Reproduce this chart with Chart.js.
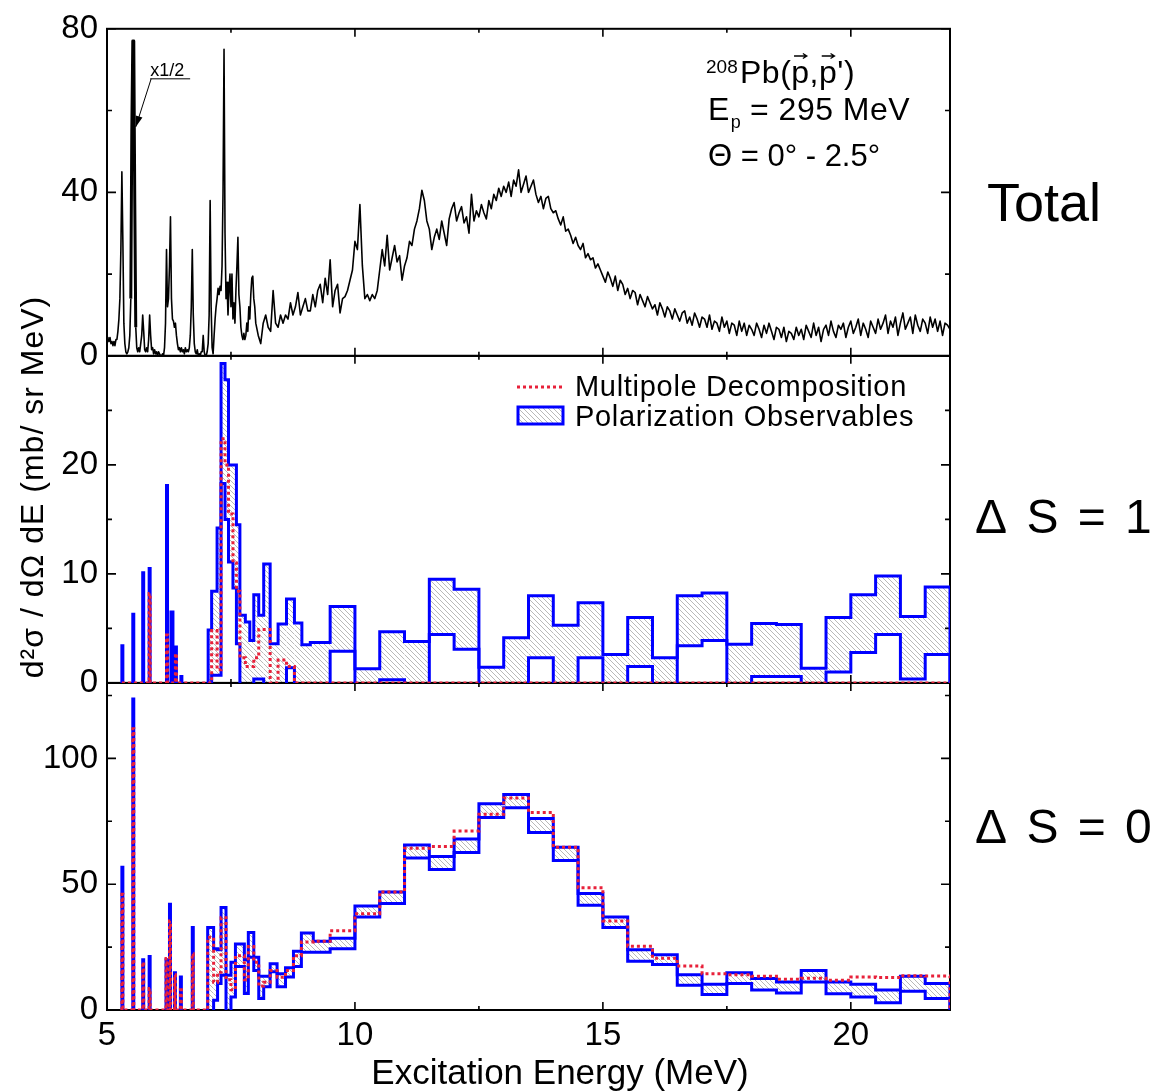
<!DOCTYPE html>
<html lang="en">
<head>
<meta charset="utf-8">
<title>208Pb(p,p') total, ΔS=1 and ΔS=0 cross sections</title>
<script src="https://cdn.jsdelivr.net/npm/chart.js"></script>
<style>
  html, body { margin: 0; padding: 0; background: #ffffff; }
  canvas { display: block; }
</style>
</head>
<body>
<canvas id="spinChart" width="1159" height="1092"></canvas>
<script>
// ---- values ----

// x axis labels and y axis labels of the three panels
const xTickLabels = [5, 10, 15, 20];
const topTickLabels = [0, 40, 80];
const midTickLabels = [0, 10, 20];
const botTickLabels = [0, 50, 100];

// total spectrum (mb/sr MeV), 5.00 - 8.00 MeV in 0.02 MeV channels
const totalLowStart = 5.0;
const totalLowStep = 0.02;
const totalLow = [
  4.5, 4, 3.5, 4.5, 3, 3.5, 2.5, 3.5, 2.5, 4,
  4, 6, 9, 14, 26, 45, 28, 8, 3, 1,
  0.5, 1, 2, 5, 14, 55, 77, 77, 38, 7,
  2, 1, 2, 1, 3, 5, 10, 6, 1.5, 1,
  2, 1, 4, 10, 5, 1.5, 2, 0.5, 1.5, 0.5,
  1, 0, 1, 0.5, 0, 0, 0.5, 0, 2, 8,
  26, 12, 14, 22, 34, 14, 9, 8.5, 7, 8,
  5, 3, 1.5, 2, 1, 2, 1, 1.5, 0.5, 2,
  1, 1.5, 1, 2, 5, 12, 26, 10, 3, 1,
  0.5, 1.5, 0, 0.5, 0, 1, 1, 5, 1, 0,
  0, 1, 3, 10, 38, 12, 2, 0.5, 5, 9,
  12, 14, 16.5, 15, 17, 16, 22, 40, 75, 30,
  14, 18, 10, 16, 20, 12, 20, 9, 13, 8,
  16, 22, 29, 15, 12, 7, 5, 4, 5.5, 4,
  5, 8, 6, 12, 9, 15, 19, 19.5, 14, 12,
  8
];

// total spectrum, 8.05 - 22.00 MeV in 0.05 MeV channels
const totalHighStart = 8.05;
const totalHighStep = 0.05;
const totalHigh = [
  5, 3, 8, 10, 7, 6, 16, 8, 7, 10,
  8, 10, 9, 13, 10, 12, 15.5, 10, 12, 14,
  11, 11, 15, 12, 16, 17.5, 13, 19, 15, 23.5,
  12, 16, 17.5, 10.5, 14, 14.5, 16, 18.5, 21, 28,
  26, 37, 22, 14, 15, 13.5, 15, 14, 16, 21,
  26, 22, 29.5, 21, 24, 27, 23, 24.5, 18.5, 22,
  24, 28, 27, 31, 33, 36, 40.5, 38, 33, 31,
  26, 29, 31, 28.5, 33, 30, 27, 33.5, 36, 37.5,
  33, 35, 36.5, 32.5, 34, 30, 39.5, 33, 35.5, 34,
  37, 35, 33.5, 38, 36, 39.5, 38, 41, 39, 41.5,
  40, 42.5, 39, 43, 41.5, 45.5, 40, 42, 44, 40,
  41.5, 43, 39.5, 37.5, 39, 36, 38.5, 39, 36, 35,
  35.5, 33.5, 32, 34, 30.5, 31, 29.5, 27.5, 29, 27,
  26, 27.5, 24, 25, 23.5, 24, 21.5, 22.5, 21, 19.5,
  18, 20.5, 19, 17, 19.5, 16, 18.5, 17.5, 15, 16.5,
  14, 16, 15.5, 12.5, 15, 13.5, 12, 14.5, 13, 11.5,
  12.5, 10, 13, 11.5, 9.5, 12, 11, 9, 11.5, 10,
  8.5, 10.5, 11, 8, 9.5, 7.5, 10.5, 9, 7, 9.5,
  9, 7, 10, 6.5, 8.5, 8, 6, 9.5, 7, 8.5,
  5.5, 8, 7.5, 5, 8.5, 6, 8, 5, 7.5, 6.5,
  5, 8, 6.5, 4.5, 7.5, 5.5, 8, 6, 4, 7,
  6.5, 4.5, 7, 3.5, 6, 5.5, 4, 7, 5, 6.5,
  4, 7.5, 6, 4.5, 8, 5, 7, 3.5, 6.5, 7.5,
  5, 8.5, 6, 4.5, 7.5, 6.5, 8, 4.5, 7, 8.5,
  5.5, 7, 9, 5, 8, 6.5, 4.5, 8.5, 7, 5.5,
  9, 6.5, 8, 10, 5.5, 8.5, 7, 9.5, 5, 8,
  10.5, 6.5, 8, 9.5, 5.5, 10, 7.5, 6, 9, 8,
  5.5, 9.5, 7, 9, 6, 8.5, 5, 8, 7.5, 6.5
];

// Delta S = 1 : bin edges (MeV), polarization band (lower / upper) and multipole result
const s1Edges = [
  5.30, 5.32, 5.52, 5.54, 5.72, 5.74, 5.85, 5.87, 6.20, 6.22,
  6.29, 6.33, 6.38, 6.40, 6.49, 6.51, 7.04, 7.11, 7.22, 7.30,
  7.38, 7.45, 7.54, 7.61, 7.68, 7.79, 7.88, 7.96, 8.06, 8.16,
  8.29, 8.45, 8.62, 8.78, 8.93, 9.10, 9.50, 10.0, 10.5, 11.0,
  11.5, 12.0, 12.5, 13.0, 13.5, 14.0, 14.5, 15.0, 15.5, 16.0,
  16.5, 17.0, 17.5, 18.0, 18.5, 19.0, 19.5, 20.0, 20.5, 21.0,
  21.5, 22.0
];
const s1Upper = [
  3.4, 0, 6.3, 0, 10.1, 0, 10.5, 0, 18.1, 0,
  6.5, 0, 3.3, 0, 0.6, 0, 4.85, 8.4, 14.2, 29.3,
  27.8, 20, 20, 14.5, 6.2, 5.6, 3.9, 8.1, 6.2, 10.9,
  3.6, 5.4, 7.7, 5.5, 3.5, 3.7, 7.0, 1.3, 4.7, 3.8,
  9.5, 8.6, 1.45, 4.15, 8.0, 5.3, 7.35, 2.6, 6.0, 2.3,
  8.0, 8.25, 3.55, 5.45, 5.35, 1.35, 6.0, 8.1, 9.8, 6.1,
  8.8
];
const s1Lower = [
  0, 0, 0, 0, 0, 0, 0, 0, 0, 0,
  0, 0, 0, 0, 0, 0, 0, 0.7, 0.7, 18.3,
  15, 11.1, 8.7, 3.6, 0, 0, 0, 0.35, 0.35, 0,
  0, 0, 1.4, 0, 0, 0, 2.9, 0, 0.3, 0,
  4.45, 3.1, 0, 0, 2.3, 0, 2.3, 0, 1.5, 0,
  3.4, 3.9, 0, 0.6, 0.6, 0, 1.0, 2.8, 4.45, 0.35,
  2.6
];
const s1Multipole = [
  0, 0, 0, 0, 0, 0, 8.2, 0, 4.4, 0,
  0, 0, 2.7, 0, 0, 0, 0, 4.8, 1.2, 22.4,
  20, 15.5, 11, 8.4, 2.3, 1.5, 1.5, 2.3, 4.9, 4.9,
  0, 2.1, 1.5, 0, 0, 0, 0, 0, 0, 0,
  0, 0, 0, 0, 0, 0, 0, 0, 0, 0,
  0, 0, 0, 0, 0, 0, 0, 0, 0, 0,
  0
];

// Delta S = 0
const s0Edges = [
  5.30, 5.32, 5.52, 5.54, 5.72, 5.74, 5.85, 5.87, 6.19, 6.21,
  6.26, 6.28, 6.36, 6.38, 6.48, 6.50, 6.72, 6.74, 7.03, 7.15,
  7.23, 7.30, 7.40, 7.50, 7.59, 7.77, 7.85, 7.96, 8.06, 8.16,
  8.29, 8.43, 8.60, 8.76, 8.92, 9.16, 9.50, 10.0, 10.5, 11.0,
  11.5, 12.0, 12.5, 13.0, 13.5, 14.0, 14.5, 15.0, 15.5, 16.0,
  16.5, 17.0, 17.5, 18.0, 18.5, 19.0, 19.5, 20.0, 20.5, 21.0,
  21.5, 22.0
];
const s0Upper = [
  56.7, 0, 123.6, 0, 20, 0, 21.3, 0, 20, 0,
  42, 0, 14.8, 0, 13.1, 0, 32.8, 0, 32.8, 24.3,
  23.9, 40.7, 13.8, 19, 26.2, 20, 30.8, 21, 13.4, 13.4,
  18.4, 14.4, 16.8, 23.4, 30.6, 27.3, 28.5, 41.3, 46.9, 65.6,
  61, 68, 82, 85.7, 76.1, 64.7, 46.3, 37, 23.9, 22,
  14, 10.2, 14.8, 12.5, 11.1, 15.7, 11.1, 10.2, 7.9, 13.4,
  10.5
];
const s0Lower = [
  0, 0, 0, 0, 0, 0, 0, 0, 0, 0,
  0, 0, 0, 0, 0, 0, 0, 0, 0, 3.9,
  10.5, 13.8, 0, 5.2, 17.3, 6.6, 21, 15.7, 4.6, 9.2,
  15.2, 9.2, 13.1, 17.3, 23, 23, 24.3, 37, 42.3, 60.4,
  55.8, 62.6, 76.5, 80.4, 70.6, 59.4, 41.6, 32.8, 19.4, 18.1,
  9.8, 6.2, 10.5, 7.9, 6.8, 11.1, 6.5, 5.2, 2.9, 7.5,
  4.6
];
const s0Multipole = [
  46, 0, 111.8, 0, 19, 0, 8.5, 0, 20.5, 0,
  35.4, 0, 14, 0, 8, 0, 22.4, 0, 28.9, 11,
  15, 36.7, 12, 8, 21.6, 12, 25.2, 19, 9.5, 11,
  15.7, 13, 15.7, 21.6, 27, 27.3, 31.5, 38.3, 46.9, 64.3,
  65, 71.1, 77.8, 84.3, 78.5, 64.7, 48.6, 35.4, 25.3, 20.6,
  17.5, 14.4, 14, 13.4, 12.2, 12.6, 11.8, 13.1, 12.9, 13.6,
  13.5
];

// ---- styling ----
const RED = '#e8213a';
const BLUE = '#0000ff';
const FONT = "'Liberation Sans', Arial, Helvetica, sans-serif";

Chart.defaults.font.family = FONT;
Chart.defaults.color = '#000';

// channel number -> energy
function channelPoints(start, step, counts) {
  return counts.map((c, i) => ({ x: +(start + i * step).toFixed(3), y: c }));
}

// histogram outline: corner points of the step curve
function stepOutline(edges, values) {
  const pts = [{ x: edges[0], y: 0 }];
  values.forEach((v, i) => {
    pts.push({ x: edges[i], y: v });
    pts.push({ x: edges[i + 1], y: v });
  });
  pts.push({ x: edges[edges.length - 1], y: 0 });
  return pts;
}

// diagonal hatch used between the lower and upper polarization curves
function makeHatch() {
  const c = document.createElement('canvas');
  c.width = 5;
  c.height = 5;
  const g = c.getContext('2d');
  g.strokeStyle = 'rgba(60,60,60,0.45)';
  g.lineWidth = 0.8;
  g.beginPath();
  g.moveTo(0, 0); g.lineTo(5, 5);
  g.moveTo(-1, 4); g.lineTo(1, 6);
  g.moveTo(4, -1); g.lineTo(6, 1);
  g.stroke();
  return g.createPattern(c, 'repeat');
}
const hatch = makeHatch();

// do not stroke the blue outline where it just runs along zero
const hideZeroRun = c => (c.p0.parsed.y === 0 && c.p1.parsed.y === 0) ? 'rgba(0,0,0,0)' : undefined;

function yAxis(max, step, labels) {
  return {
    type: 'linear',
    position: 'left',
    stack: 'panels',
    stackWeight: 1,
    min: 0,
    max: max,
    afterFit: s => { s.width = 107; },
    grid: { display: false, drawTicks: false },
    border: { display: false },
    ticks: {
      stepSize: step,
      autoSkip: false,
      includeBounds: false,
      padding: 9,
      font: { size: 33 },
      callback: v => labels.includes(v) ? String(v) : ''
    }
  };
}

const panelAxes = [
  { id: 'yTop', labels: topTickLabels },
  { id: 'yMid', labels: midTickLabels },
  { id: 'yBot', labels: botTickLabels }
];

// frames and inward ticks of the three panels
const panelFrame = {
  id: 'panelFrame',
  beforeDatasetsDraw(chart) {
    const { ctx, chartArea: a, scales } = chart;
    const xs = scales.x;
    ctx.save();
    ctx.strokeStyle = '#000';
    ctx.lineWidth = 1.6;
    ctx.beginPath();
    panelAxes.forEach(p => {
      const ys = scales[p.id];
      ys.ticks.forEach(t => {
        const py = ys.getPixelForValue(t.value);
        const len = p.labels.includes(t.value) ? 9 : 5;
        ctx.moveTo(a.left, py); ctx.lineTo(a.left + len, py);
        ctx.moveTo(a.right, py); ctx.lineTo(a.right - len, py);
      });
      xs.ticks.forEach(t => {
        const px = xs.getPixelForValue(t.value);
        const len = xTickLabels.includes(t.value) ? 8 : 4;
        ctx.moveTo(px, ys.top); ctx.lineTo(px, ys.top + len);
        ctx.moveTo(px, ys.bottom); ctx.lineTo(px, ys.bottom - len);
      });
    });
    ctx.stroke();
    ctx.lineWidth = 2;
    panelAxes.forEach(p => {
      const ys = scales[p.id];
      ctx.strokeRect(a.left, ys.top, a.right - a.left, ys.bottom - ys.top);
    });
    ctx.restore();
  }
};

function vecArrow(ctx, cx, y, w) {
  ctx.beginPath();
  ctx.moveTo(cx - w / 2, y);
  ctx.lineTo(cx + w / 2, y);
  ctx.moveTo(cx + w / 2 - 4, y - 2.5);
  ctx.lineTo(cx + w / 2, y);
  ctx.lineTo(cx + w / 2 - 4, y + 2.5);
  ctx.stroke();
}

// reaction label, legend, panel names, axis titles
const figureText = {
  id: 'figureText',
  afterDraw(chart) {
    const { ctx, scales } = chart;
    const xs = scales.x;
    const yT = scales.yTop;
    ctx.save();
    ctx.fillStyle = '#000';
    ctx.strokeStyle = '#000';
    ctx.textAlign = 'left';
    ctx.textBaseline = 'alphabetic';

    // "x1/2" note pointing at the 5.5 MeV line
    const nx = xs.getPixelForValue(5.87);
    const ny = yT.getPixelForValue(68.5);
    ctx.font = `18px ${FONT}`;
    ctx.fillText('x1/2', nx, ny);
    const ux = nx + 1, uy = ny + 3;
    const tx = xs.getPixelForValue(5.58), ty = yT.getPixelForValue(56);
    ctx.lineWidth = 1;
    ctx.beginPath();
    ctx.moveTo(nx, uy); ctx.lineTo(nx + 40, uy);
    ctx.moveTo(ux, uy); ctx.lineTo(tx, ty);
    ctx.stroke();
    const ang = Math.atan2(ty - uy, tx - ux);
    ctx.beginPath();
    ctx.moveTo(tx, ty);
    ctx.lineTo(tx - 11 * Math.cos(ang) + 3.5 * Math.sin(ang), ty - 11 * Math.sin(ang) - 3.5 * Math.cos(ang));
    ctx.lineTo(tx - 11 * Math.cos(ang) - 3.5 * Math.sin(ang), ty - 11 * Math.sin(ang) + 3.5 * Math.cos(ang));
    ctx.closePath();
    ctx.fill();

    // reaction
    ctx.font = `19px ${FONT}`;
    ctx.fillText('208', 706, 73);
    ctx.font = `32px ${FONT}`;
    ctx.letterSpacing = '0.5px';
    let px = 740;
    ctx.lineWidth = 1.3;
    ['Pb(', 'p', ',', 'p', "')"].forEach(s => {
      const w = ctx.measureText(s).width;
      ctx.fillText(s, px, 83);
      if (s === 'p') vecArrow(ctx, px + w / 2, 56, w * 0.7);
      px += w;
    });
    ctx.fillText('E', 708, 120);
    const ew = ctx.measureText('E').width;
    ctx.font = `18px ${FONT}`;
    ctx.fillText('p', 708 + ew + 1, 128);
    ctx.font = `32px ${FONT}`;
    ctx.fillText('= 295 MeV', 750, 120);
    ctx.font = `31px ${FONT}`;
    ctx.letterSpacing = '0px';
    ctx.fillText('\u0398 = 0\u00b0 - 2.5\u00b0', 708, 166);

    // legend in the middle panel
    ctx.save();
    ctx.strokeStyle = RED;
    ctx.lineWidth = 3;
    ctx.setLineDash([3, 3]);
    ctx.beginPath();
    ctx.moveTo(517, 387); ctx.lineTo(562, 387);
    ctx.stroke();
    ctx.restore();
    ctx.fillStyle = hatch;
    ctx.fillRect(518, 407, 45, 17);
    ctx.strokeStyle = BLUE;
    ctx.lineWidth = 3;
    ctx.strokeRect(518, 407, 45, 17);
    ctx.fillStyle = '#000';
    ctx.font = `29px ${FONT}`;
    ctx.letterSpacing = '0.7px';
    ctx.fillText('Multipole Decomposition', 575, 396);
    ctx.fillText('Polarization Observables', 575, 426);

    // panel names
    ctx.letterSpacing = '0px';
    ctx.font = `54px ${FONT}`;
    ctx.fillText('Total', 987, 221);
    ctx.font = `48px ${FONT}`;
    ctx.letterSpacing = '3px';
    ctx.fillText('\u0394 S = 1', 975, 533);
    ctx.fillText('\u0394 S = 0', 975, 843);

    // x title, centred a little right of the plot centre as in the original
    ctx.letterSpacing = '0px';
    ctx.textAlign = 'center';
    ctx.font = `35px ${FONT}`;
    ctx.fillText('Excitation Energy (MeV)', 560, 1084);

    // y title
    ctx.translate(43, 487);
    ctx.rotate(-Math.PI / 2);
    ctx.font = `32px ${FONT}`;
    ctx.letterSpacing = '1px';
    ctx.fillText('d\u00b2\u03c3 / d\u03a9 dE (mb/ sr MeV)', 0, 0);
    ctx.restore();
  }
};

const totalPoints = channelPoints(totalLowStart, totalLowStep, totalLow)
  .concat(channelPoints(totalHighStart, totalHighStep, totalHigh));

const bandLine = {
  borderColor: BLUE,
  borderWidth: 3,
  borderJoinStyle: 'miter',
  pointRadius: 0,
  order: 1,
  segment: { borderColor: hideZeroRun }
};
const multipoleLine = {
  borderColor: RED,
  borderWidth: 3,
  borderDash: [3, 3],
  pointRadius: 0,
  fill: false,
  order: 0
};

new Chart(document.getElementById('spinChart'), {
  type: 'line',
  data: {
    datasets: [
      {
        label: 'Total',
        data: totalPoints,
        yAxisID: 'yTop',
        borderColor: '#000',
        borderWidth: 1.6,
        borderJoinStyle: 'round',
        pointRadius: 0,
        fill: false,
        order: 2,
        segment: {
          // the x1/2 line is drawn heavier in the original
          borderWidth: c => (c.p0.parsed.x >= 5.48 && c.p1.parsed.x <= 5.58) ? 3 : undefined
        }
      },
      Object.assign({ label: 'ΔS=1 polarization lower', data: stepOutline(s1Edges, s1Lower), yAxisID: 'yMid', fill: false }, bandLine),
      Object.assign({ label: 'ΔS=1 Polarization Observables', data: stepOutline(s1Edges, s1Upper), yAxisID: 'yMid', fill: '-1', backgroundColor: hatch }, bandLine),
      Object.assign({ label: 'ΔS=1 Multipole Decomposition', data: stepOutline(s1Edges, s1Multipole), yAxisID: 'yMid' }, multipoleLine),
      Object.assign({ label: 'ΔS=0 polarization lower', data: stepOutline(s0Edges, s0Lower), yAxisID: 'yBot', fill: false }, bandLine),
      Object.assign({ label: 'ΔS=0 Polarization Observables', data: stepOutline(s0Edges, s0Upper), yAxisID: 'yBot', fill: '-1', backgroundColor: hatch }, bandLine),
      Object.assign({ label: 'ΔS=0 Multipole Decomposition', data: stepOutline(s0Edges, s0Multipole), yAxisID: 'yBot' }, multipoleLine)
    ]
  },
  options: {
    responsive: false,
    animation: false,
    devicePixelRatio: 1,
    layout: { padding: { left: 0, right: 209, top: 19, bottom: 0 } },
    elements: { line: { tension: 0 } },
    plugins: {
      legend: { display: false },
      tooltip: { enabled: false },
      filler: { drawTime: 'beforeDatasetsDraw' }
    },
    scales: {
      x: {
        type: 'linear',
        min: 5,
        max: 22,
        afterFit: s => { s.height = 82; },
        grid: { display: false, drawTicks: false },
        border: { display: false },
        ticks: {
          stepSize: 2.5,
          autoSkip: false,
          includeBounds: false,
          maxRotation: 0,
          minRotation: 0,
          padding: 6,
          font: { size: 33 },
          callback: v => xTickLabels.includes(v) ? String(v) : ''
        }
      },
      // stacked left axes: first listed ends up at the bottom
      yBot: yAxis(130, 25, botTickLabels),
      yMid: yAxis(30, 5, midTickLabels),
      yTop: yAxis(80, 20, topTickLabels)
    }
  },
  plugins: [panelFrame, figureText]
});
</script>
</body>
</html>
